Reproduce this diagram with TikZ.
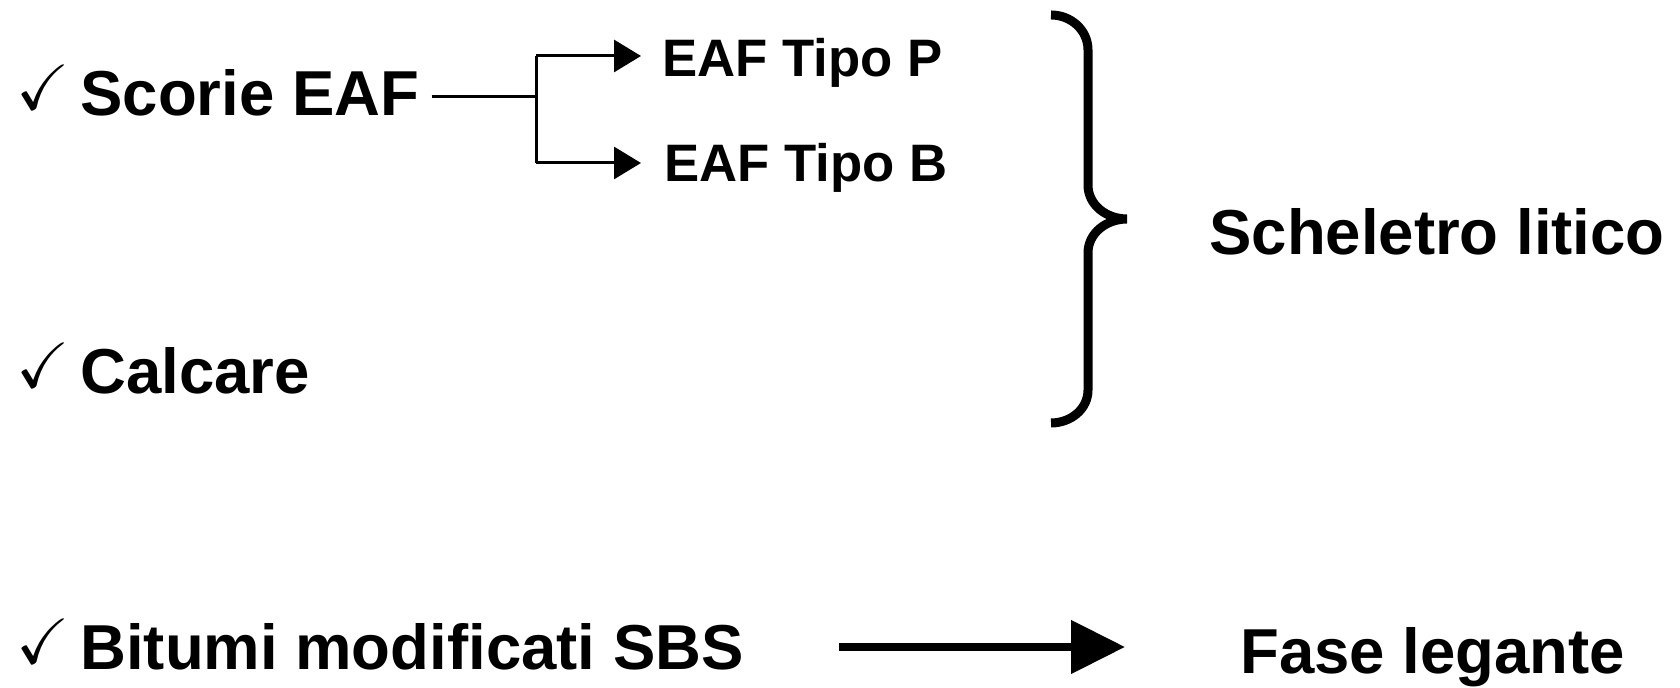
\documentclass[tikz,border=0pt]{standalone}
\usepackage{amssymb}
\usepackage{fontspec}
\setmainfont{Liberation Sans}
\usetikzlibrary{arrows.meta}
\begin{document}
\begin{tikzpicture}[x=0.5pt,y=0.5pt,
  big/.style={inner sep=0pt,anchor=base west,font=\fontsize{31.75}{36}\selectfont\bfseries},
  small/.style={inner sep=0pt,anchor=base west,font=\fontsize{26.35}{30}\selectfont\bfseries},
  chk/.style={inner sep=0pt,anchor=base west,font=\fontsize{32}{36}\selectfont},
  thin/.style={line width=1.5pt},
  thinarrow/.style={line width=1.5pt,-{Triangle[length=13.5pt,width=16pt]}},
  bigarrow/.style={line width=4pt,-{Triangle[length=27pt,width=26pt]}},
  brace/.style={line width=4.5pt}]
\useasboundingbox (0,0) rectangle (1680,688);
% checks
\node[chk] (c1) at (16,578) {$\checkmark$};
\node[chk] (c2) at (16,300) {$\checkmark$};
\node[chk] (c3) at (16,24) {$\checkmark$};
% texts
\node[big] (scorie) at (80,572) {Scorie EAF};
\node[small] (tipop) at (662,611) {EAF Tipo P};
\node[small] (tipob) at (664,506) {EAF Tipo B};
\node[big] (calcare) at (80,294) {Calcare};
\node[big] (schel) at (1209,433) {Scheletro litico};
\node[big] (bitumi) at (80,18) {Bitumi modificati SBS};
\node[big] (fase) at (1240,14) {Fase legante};
% branch connector
\coordinate (j) at (536,591);
\coordinate (jt) at (536,632);
\coordinate (jb) at (536,525);
\coordinate (at) at (641,632);
\coordinate (ab) at (641,525);
\draw[thin] (scorie.east |- j) ++(12,0) -- (j);
\draw[thin] (jt) -- (jb);
\draw[thinarrow] (jt) -- (at);
\draw[thinarrow] (jb) -- (ab);
% brace
\draw[brace] (1051,673) to[out=0,in=90] (1088,638) -- (1088,503)
  to[out=-90,in=180] (1127,469) to[out=180,in=90] (1088,435)
  -- (1088,298) to[out=-90,in=0] (1051,265);
% big arrow
\coordinate (ba) at (839,41);
\coordinate (bb) at (1125,41);
\draw[bigarrow] (ba) -- (bb);
\end{tikzpicture}
\end{document}
